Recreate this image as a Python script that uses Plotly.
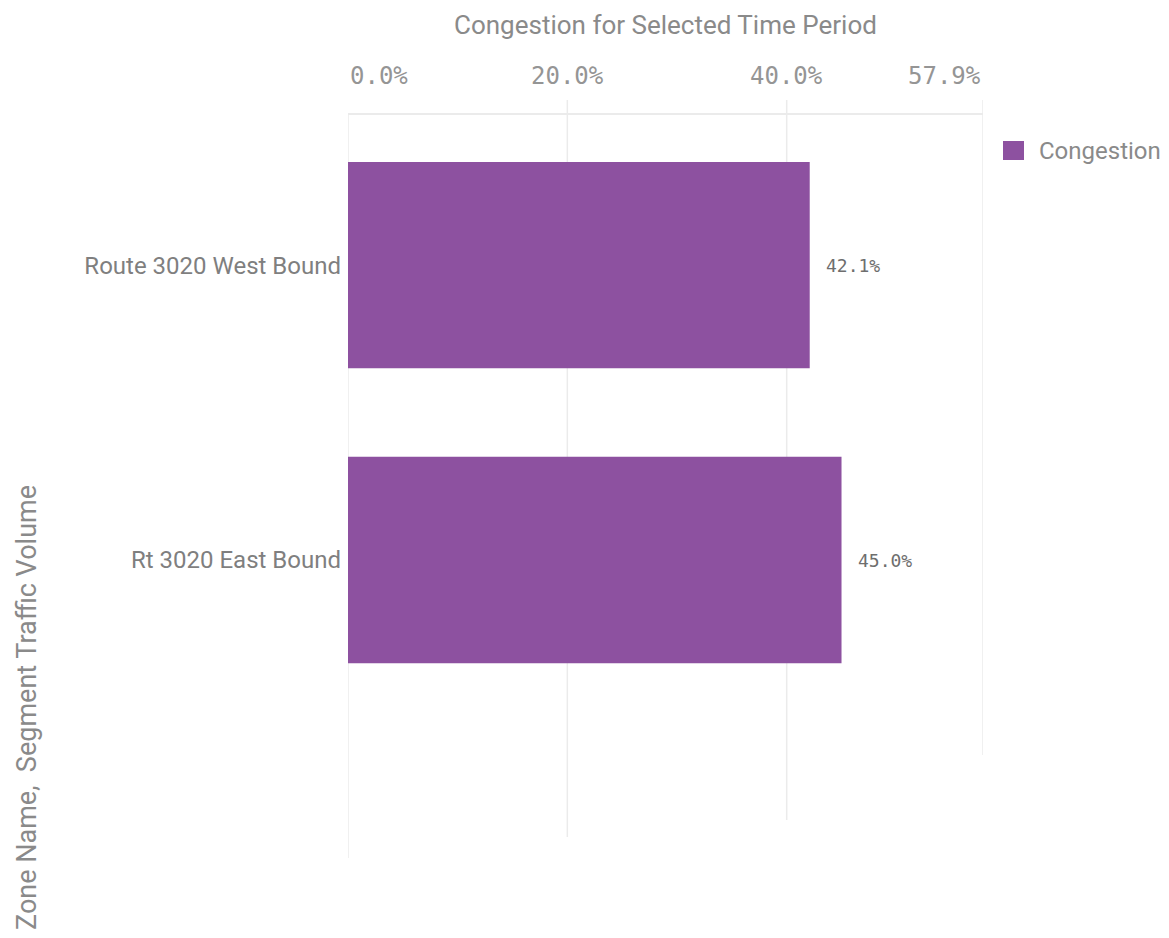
import plotly.graph_objects as go

# ---- data ----
categories = ["Route 3020 West Bound", "Rt 3020 East Bound"]
congestion = [0.421, 0.450]
tick_values = [0.0, 0.2, 0.4, 0.579]
tick_labels = ["0.0%", "20.0%", "40.0%", "57.9%"]
series_name = "Congestion"
x_title = "Congestion for Selected Time Period"
y_title = "Zone Name,  Segment Traffic Volume"

# ---- style ----
BAR = "#8D51A0"
GRID = "#ebebeb"
TXT = "#8a8a8a"
SANS = "Roboto, Open Sans, sans-serif"
MONO = "DejaVu Sans Mono, monospace"

OFF = 8  # page body margin
W, H = 1169 - OFF, 938 - OFF
PL, PT, PR, PB = 348, 115, 983, 858  # plot area in page pixels
L, T = PL - OFF, PT - OFF
R, B = W - (PR - OFF), H - (PB - OFF)
plot_w, plot_h = PR - PL, PB - PT


def px_x(px):
    return (px - PL) / plot_w


def px_y(py):
    return (PB - py) / plot_h


fig = go.Figure()
fig.add_trace(go.Bar(
    x=congestion, y=categories, orientation="h",
    marker=dict(color=BAR, line=dict(width=0)),
    name=series_name, showlegend=False,
    hoverinfo="x+y",
))

# data labels
for v, c in zip(congestion, categories):
    fig.add_annotation(x=v, y=c, xref="x", yref="y", text=f"{v*100:.1f}%",
                       showarrow=False, xanchor="left", yanchor="middle", xshift=14,
                       font=dict(family=MONO, size=18, color="#6e6e6e"))

# tick labels (first left-aligned, last right-aligned)
for i, (tv, tl) in enumerate(zip(tick_values, tick_labels)):
    anchor = "left" if i == 0 else ("right" if i == len(tick_values) - 1 else "center")
    fig.add_annotation(x=tv, y=1, xref="x", yref="paper", text=tl, showarrow=False,
                       xanchor=anchor, yanchor="middle", yshift=39,
                       font=dict(family=MONO, size=24, color="#959595"))

# gridlines (Qlik-style, varying lengths)
grid_bottom_px = [858, 837, 820, 755]
grid_top_px = [115, 100, 100, 100]
for tv, yb, yt in zip(tick_values, grid_bottom_px, grid_top_px):
    fig.add_shape(type="line", xref="x", yref="paper", x0=tv, x1=tv,
                  y0=px_y(yb), y1=px_y(yt),
                  line=dict(color=GRID, width=1.5), layer="below")

# legend (manual, Qlik-style swatch)
fig.add_shape(type="rect", xref="paper", yref="paper",
              x0=px_x(1003), x1=px_x(1024), y0=px_y(160), y1=px_y(141),
              fillcolor=BAR, line=dict(width=0))
fig.add_annotation(x=px_x(1037), y=px_y(151), xref="paper", yref="paper",
                   text=series_name, showarrow=False, xanchor="left", yanchor="middle",
                   font=dict(family=SANS, size=24, color=TXT))

# x-axis title (top)
fig.add_annotation(x=0.5, y=px_y(25), xref="paper", yref="paper",
                   text=x_title, showarrow=False, xanchor="center", yanchor="middle",
                   font=dict(family=SANS, size=26, color=TXT))

# y-axis title
fig.add_annotation(x=px_x(27), y=px_y(708), xref="paper", yref="paper",
                   text=y_title, textangle=-90, showarrow=False,
                   xanchor="center", yanchor="middle",
                   font=dict(family=SANS, size=27, color=TXT))

fig.update_layout(
    width=W, height=H,
    margin=dict(l=L, r=R, t=T, b=B),
    paper_bgcolor="white", plot_bgcolor="white",
    bargap=0.3,
    showlegend=False,
    xaxis=dict(side="top", range=[0, 0.579], tickvals=tick_values, showticklabels=False,
               showgrid=False, zeroline=False, showline=True, linecolor=GRID, linewidth=1.5,
               ticks=""),
    yaxis=dict(range=[2.01, -0.509], showgrid=False, zeroline=False, showline=False,
               ticks="", ticklabelstandoff=6,
               tickfont=dict(family=SANS, size=24, color="#7f7f7f")),
    font=dict(family=SANS),
)

fig.write_html("out.html")
